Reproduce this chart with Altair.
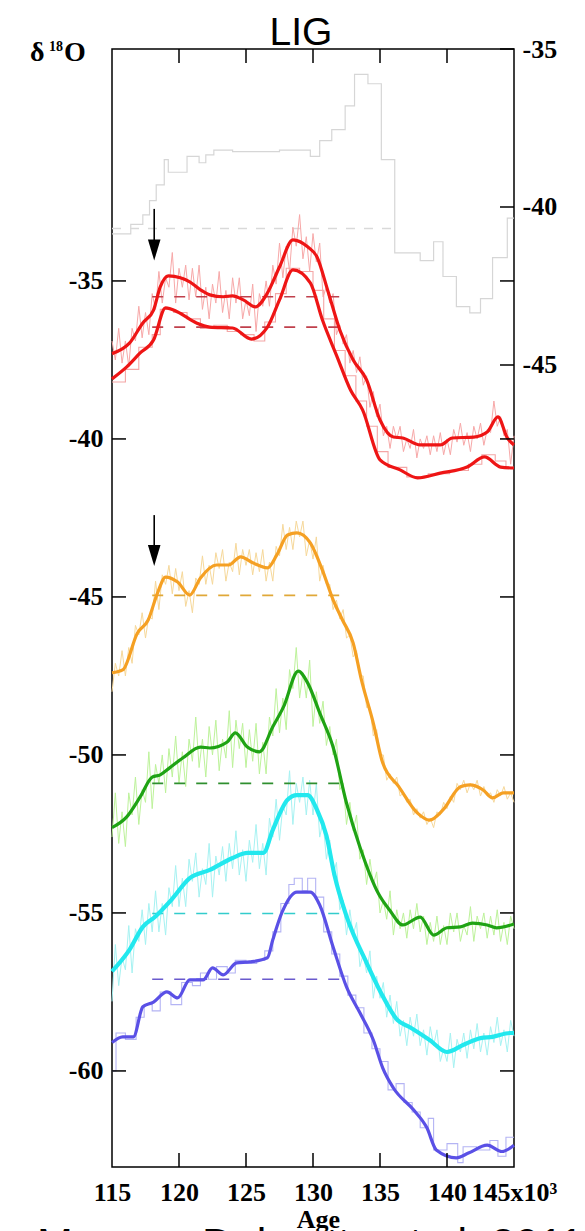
import altair as alt
import pandas as pd

# ---------------- axes ----------------
AGE_DOMAIN = [115, 145]
LEFT_DOMAIN = [-63.04, -27.66]
RIGHT_DOMAIN = [-70.38, -35.0]
AGE_TICKS = [115, 120, 125, 130, 135, 140, 145]
LEFT_TICKS = [-35, -40, -45, -50, -55, -60]
RIGHT_TICKS = [-35, -40, -45]

# ---------------- smoothed records (left axis) ----------------
RED_UP_AGE = [115.0, 116.3, 117.3, 118.1, 118.6, 119.2, 120.1, 120.8, 121.6, 122.3, 123.3, 124.0,
              124.8, 125.7, 126.6, 127.5, 128.5, 129.6, 130.3, 131.1, 132.0, 133.0, 134.0, 135.0,
              136.0, 136.7, 138.0, 139.5, 140.4, 142.0, 143.0, 143.8, 144.5, 145.0]
RED_UP_VAL = [-37.3, -36.97, -36.33, -35.92, -35.19, -34.84, -34.9, -35.03, -35.28, -35.44, -35.5, -35.47,
              -35.6, -35.82, -35.38, -34.56, -33.7, -33.92, -34.24, -35.3, -36.55, -37.5, -38.13, -39.4,
              -39.94, -39.97, -40.19, -40.19, -39.97, -39.94, -39.78, -39.3, -39.97, -40.19]

RED_LO_AGE = [115.0, 116.1, 117.1, 118.1, 119.0, 119.9, 121.3, 122.3, 124.0, 125.4, 126.6, 127.5,
              128.5, 129.8, 130.7, 131.8, 132.8, 133.7, 135.0, 136.5, 137.8, 139.5, 141.5, 142.8,
              144.0, 145.0]
RED_LO_VAL = [-38.1, -37.72, -37.28, -36.87, -35.85, -35.98, -36.33, -36.46, -36.49, -36.84, -36.46, -35.6,
              -34.65, -35.06, -36.23, -37.4, -38.45, -39.08, -40.66, -40.98, -41.23, -41.08, -40.89, -40.57,
              -40.89, -40.92]

ORANGE_AGE = [115.0, 115.8, 116.9, 117.7, 118.4, 119.0, 119.9, 120.8, 121.6, 122.8, 123.7, 124.6,
              125.5, 126.6, 127.3, 128.1, 128.8, 129.8, 130.7, 131.5, 132.2, 133.0, 133.6, 134.5,
              135.2, 136.4, 137.8, 138.7, 139.7, 141.0, 141.7, 142.7, 143.4, 144.2, 145.0]
ORANGE_VAL = [-47.4, -47.31, -46.14, -45.73, -44.87, -44.37, -44.53, -44.94, -44.4, -43.99, -43.99, -43.73,
              -43.92, -44.08, -43.67, -43.04, -42.97, -43.29, -44.15, -45.09, -45.73, -46.46, -47.6, -48.99,
              -50.25, -51.0, -51.84, -52.06, -51.74, -51.01, -50.95, -51.11, -51.36, -51.2, -51.2]

GREEN_AGE = [115.0, 116.1, 117.1, 118.0, 118.6, 119.3, 120.3, 121.6, 122.3, 123.6, 124.2, 125.1,
             126.0, 127.0, 127.8, 128.9, 129.6, 130.5, 131.5, 132.5, 133.5, 134.9, 135.7, 136.7,
             138.0, 139.0, 140.0, 141.0, 141.9, 143.0, 143.7, 145.0]
GREEN_VAL = [-52.3, -51.96, -51.33, -50.7, -50.63, -50.41, -50.09, -49.75, -49.78, -49.59, -49.3, -49.75,
             -49.9, -49.11, -48.48, -47.35, -47.72, -48.67, -49.75, -51.52, -52.91, -54.4, -54.9, -55.38,
             -55.13, -55.7, -55.47, -55.44, -55.32, -55.38, -55.47, -55.35]

CYAN_AGE = [115.0, 116.3, 117.3, 118.2, 119.4, 120.8, 122.3, 124.0, 125.1, 126.3, 127.0, 128.1,
            128.8, 129.6, 130.3, 131.0, 131.6, 132.5, 134.0, 135.1, 136.3, 137.2, 138.7, 140.0,
            141.2, 142.5, 143.4, 144.7, 145.0]
CYAN_VAL = [-56.85, -56.17, -55.44, -55.13, -54.6, -53.9, -53.64, -53.26, -53.1, -53.1, -52.37, -51.42,
            -51.27, -51.27, -51.74, -52.55, -53.8, -55.1, -56.58, -57.55, -58.39, -58.61, -59.02, -59.4,
            -59.18, -58.96, -58.92, -58.8, -58.8]

BLUE_AGE = [115.0, 115.8, 116.6, 117.3, 118.1, 119.1, 119.9, 120.8, 121.8, 122.5, 123.3, 124.3,
            125.3, 126.6, 127.0, 127.7, 128.8, 129.8, 130.5, 131.5, 132.5, 133.5, 134.5, 135.2,
            136.0, 137.5, 138.5, 139.2, 140.7, 141.6, 143.0, 144.1, 145.0]
BLUE_VAL = [-59.1, -58.92, -58.92, -57.97, -57.82, -57.5, -57.69, -57.12, -57.12, -56.74, -56.96, -56.58,
            -56.55, -56.42, -55.85, -54.97, -54.34, -54.34, -54.75, -56.08, -57.34, -58.16, -59.02, -59.9,
            -60.54, -61.23, -61.8, -62.5, -62.75, -62.6, -62.35, -62.55, -62.35]

# ---------------- raw records (0.25 ka sampling) ----------------
RAW_AGE = [115.0, 115.25, 115.5, 115.75, 116.0, 116.25, 116.5, 116.75, 117.0, 117.25, 117.5, 117.75,
           118.0, 118.25, 118.5, 118.75, 119.0, 119.25, 119.5, 119.75, 120.0, 120.25, 120.5, 120.75,
           121.0, 121.25, 121.5, 121.75, 122.0, 122.25, 122.5, 122.75, 123.0, 123.25, 123.5, 123.75,
           124.0, 124.25, 124.5, 124.75, 125.0, 125.25, 125.5, 125.75, 126.0, 126.25, 126.5, 126.75,
           127.0, 127.25, 127.5, 127.75, 128.0, 128.25, 128.5, 128.75, 129.0, 129.25, 129.5, 129.75,
           130.0, 130.25, 130.5, 130.75, 131.0, 131.25, 131.5, 131.75, 132.0, 132.25, 132.5, 132.75,
           133.0, 133.25, 133.5, 133.75, 134.0, 134.25, 134.5, 134.75, 135.0, 135.25, 135.5, 135.75,
           136.0, 136.25, 136.5, 136.75, 137.0, 137.25, 137.5, 137.75, 138.0, 138.25, 138.5, 138.75,
           139.0, 139.25, 139.5, 139.75, 140.0, 140.25, 140.5, 140.75, 141.0, 141.25, 141.5, 141.75,
           142.0, 142.25, 142.5, 142.75, 143.0, 143.25, 143.5, 143.75, 144.0, 144.25, 144.5, 144.75,
           145.0]
RED_RAW = [-36.9, -37.5, -36.5, -37.6, -36.9, -37.7, -36.5, -36.9, -35.8, -36.8, -36.0, -36.7,
           -35.4, -35.9, -34.7, -35.7, -34.9, -35.2, -34.1, -35.7, -34.6, -35.2, -34.5, -35.6,
           -34.6, -35.5, -34.5, -35.9, -35.2, -36.2, -35.1, -35.7, -34.7, -36.0, -35.3, -36.2,
           -34.9, -35.7, -34.9, -36.2, -35.6, -36.1, -35.1, -36.6, -35.4, -35.8, -35.0, -35.8,
           -34.5, -35.1, -33.8, -34.9, -33.9, -34.7, -33.3, -33.9, -32.9, -34.3, -33.6, -34.7,
           -33.5, -34.4, -33.8, -35.5, -35.2, -35.7, -35.4, -36.7, -36.4, -37.0, -36.7, -37.6,
           -37.2, -37.9, -37.4, -38.3, -38.0, -39.0, -38.5, -39.3, -38.9, -39.9, -39.6, -40.3,
           -39.6, -40.0, -39.6, -40.4, -40.0, -40.3, -39.7, -40.6, -40.0, -40.3, -39.9, -40.5,
           -39.9, -40.4, -39.8, -40.5, -40.0, -40.5, -39.7, -40.1, -39.5, -40.2, -39.8, -40.4,
           -39.6, -40.0, -39.5, -40.2, -39.7, -39.8, -38.8, -39.6, -39.3, -39.9, -39.7, -40.8,
           -39.9]
ORANGE_RAW = [-48.0, -47.1, -47.5, -46.7, -47.5, -46.6, -47.1, -45.9, -46.2, -45.5, -46.3, -45.6,
              -45.7, -44.5, -45.4, -44.3, -44.6, -44.0, -44.9, -44.1, -44.8, -44.2, -45.3, -44.8,
              -45.5, -44.4, -44.6, -43.7, -44.6, -44.0, -44.6, -43.6, -44.1, -43.5, -44.5, -43.9,
              -44.2, -43.3, -44.3, -43.5, -44.0, -43.5, -44.3, -43.6, -44.2, -43.5, -44.5, -43.9,
              -44.5, -43.4, -43.7, -42.7, -43.5, -42.8, -43.5, -42.6, -43.1, -42.6, -43.7, -43.2,
              -43.8, -43.1, -44.5, -44.0, -44.6, -44.6, -45.4, -45.1, -45.7, -45.4, -46.3, -46.2,
              -46.9, -46.7, -47.5, -47.5, -48.5, -48.5, -49.4, -49.2, -50.0, -50.0, -50.8, -50.6,
              -50.9, -50.7, -51.3, -51.2, -51.5, -51.4, -51.9, -51.7, -52.0, -51.8, -52.2, -52.0,
              -52.3, -51.8, -51.9, -51.5, -51.7, -51.3, -51.5, -50.9, -51.1, -50.8, -51.2, -50.9,
              -51.1, -50.8, -51.3, -51.0, -51.3, -51.2, -51.5, -51.1, -51.3, -51.0, -51.4, -51.2,
              -51.5]
GREEN_RAW = [-52.6, -51.2, -52.8, -51.8, -52.9, -51.2, -51.9, -50.7, -52.2, -51.1, -51.5, -49.9,
             -51.7, -50.3, -50.9, -50.0, -51.2, -49.8, -50.7, -49.4, -50.9, -49.9, -51.0, -49.5,
             -50.2, -48.8, -50.4, -49.5, -50.7, -49.1, -50.0, -48.9, -50.5, -49.5, -50.1, -48.6,
             -50.4, -48.9, -49.8, -49.0, -50.4, -49.2, -50.2, -49.0, -50.6, -49.6, -50.6, -48.8,
             -49.4, -47.9, -49.3, -48.2, -49.2, -47.3, -47.9, -46.6, -48.2, -47.4, -48.2, -47.0,
             -49.1, -48.0, -49.0, -48.3, -49.7, -49.1, -50.0, -49.5, -51.1, -50.9, -52.2, -51.5,
             -52.4, -51.9, -53.3, -53.0, -54.1, -53.3, -54.1, -53.7, -55.0, -54.6, -55.2, -54.3,
             -55.7, -54.9, -55.5, -55.0, -55.8, -54.9, -55.5, -54.7, -55.6, -55.1, -56.0, -55.3,
             -55.9, -55.1, -56.0, -55.4, -56.0, -55.0, -55.6, -55.0, -55.9, -55.4, -55.7, -54.8,
             -55.9, -55.1, -55.5, -55.0, -55.8, -55.1, -55.7, -54.9, -55.9, -55.3, -56.0, -55.1,
             -55.5]
CYAN_RAW = [-57.8, -56.0, -57.3, -56.4, -56.8, -55.4, -56.9, -55.5, -55.9, -54.9, -56.0, -54.7,
            -55.6, -54.3, -55.6, -54.7, -55.7, -54.2, -54.8, -53.5, -54.8, -53.9, -54.8, -53.3,
            -54.0, -53.1, -54.5, -53.6, -54.1, -52.8, -54.5, -53.2, -53.8, -52.9, -54.0, -52.8,
            -53.6, -52.4, -53.8, -53.0, -54.0, -52.7, -53.4, -52.2, -53.6, -52.8, -53.8, -52.0,
            -52.6, -51.4, -52.7, -51.6, -51.9, -50.5, -52.2, -50.9, -51.5, -50.7, -51.9, -50.8,
            -51.9, -50.9, -52.6, -52.1, -53.3, -52.7, -53.8, -53.4, -54.9, -54.6, -55.7, -54.9,
            -55.7, -55.3, -56.7, -56.3, -56.9, -56.2, -57.7, -57.0, -57.7, -57.2, -58.3, -57.6,
            -58.5, -57.8, -58.9, -58.4, -59.2, -58.3, -58.9, -58.2, -59.2, -58.7, -59.5, -58.6,
            -59.2, -58.7, -59.7, -59.3, -59.7, -58.8, -59.9, -59.0, -59.4, -58.8, -59.6, -58.7,
            -59.3, -58.5, -59.4, -58.8, -59.5, -58.6, -59.1, -58.3, -59.2, -58.7, -59.4, -58.4,
            -58.9]

# stepped raw records
RED_STEP_AGE = [115.0, 116.0, 117.0, 118.0, 118.6, 119.6, 120.6, 121.6, 122.6, 123.6, 124.6, 125.6,
                126.4, 127.2, 128.0, 129.0, 130.0, 130.8, 131.6, 132.4, 133.2, 134.0, 134.8, 135.6,
                137.0, 138.6, 140.2, 141.6, 142.6, 143.6, 144.4, 145.0]
RED_STEP_VAL = [-38.2, -37.8, -37.1, -36.7, -35.9, -36.0, -36.2, -36.5, -36.4, -36.6, -36.7, -36.9,
                -36.3, -35.4, -34.6, -34.7, -35.3, -36.2, -37.2, -38.0, -38.8, -39.6, -40.4, -40.9,
                -41.2, -41.1, -41.0, -40.8, -40.5, -40.7, -40.9, -40.9]
BLUE_STEP_AGE = [115.0, 115.3, 116.0, 116.8, 117.4, 118.0, 118.6, 119.4, 120.2, 121.0, 121.6, 122.2,
                 122.8, 123.6, 124.2, 125.0, 125.8, 126.4, 127.0, 127.6, 128.2, 128.6, 129.2, 129.6,
                 130.2, 130.8, 131.4, 132.0, 132.6, 133.2, 133.8, 134.4, 135.0, 135.6, 136.2, 136.8,
                 137.4, 138.0, 138.6, 139.0, 140.0, 140.8, 141.2, 142.2, 143.2, 143.8, 144.4, 145.0]
BLUE_STEP_VAL = [-60.0, -58.8, -59.0, -58.3, -57.9, -58.1, -57.5, -57.9, -57.2, -57.3, -56.9, -57.1,
                 -56.7, -56.9, -56.5, -56.6, -56.5, -56.2, -55.6, -54.7, -54.1, -53.9, -54.3, -53.9,
                 -54.5, -55.6, -56.3, -57.0, -57.6, -58.0, -58.8, -59.3, -59.7, -60.6, -60.4, -61.0,
                 -61.3, -61.8, -61.5, -62.5, -62.3, -62.9, -62.4, -62.5, -62.2, -62.7, -62.1, -62.1]

# grey stepped record (right axis)
GREY_AGE = [115.0, 116.4, 117.3, 117.8, 118.3, 118.9, 119.2, 120.2, 120.6, 121.5, 122.0, 122.6,
            124.0, 127.5, 129.8, 130.5, 131.4, 132.4, 133.1, 134.1, 135.1, 136.1, 138.0, 139.0,
            139.7, 140.7, 141.7, 142.5, 143.4, 144.5, 145.0]
GREY_VAL = [-40.85, -40.55, -40.25, -39.8, -39.3, -38.5, -38.9, -38.9, -38.4, -38.6, -38.35, -38.2,
            -38.25, -38.2, -38.4, -37.9, -37.55, -36.8, -35.8, -36.1, -38.5, -41.45, -41.7, -41.1,
            -42.2, -43.15, -43.35, -42.9, -41.6, -40.35, -40.35]

# reference levels (dashed)
LEVEL_START, LEVEL_END = 118.0, 132.5
LEVELS = [-35.5, -36.46, -44.95, -50.9, -55.02, -57.1]
LEVEL_COLORS = ["#c0404c", "#c0404c", "#e0a838", "#2f8f2f", "#33cccc", "#6a5acd"]
GREY_LEVEL = -40.68
GREY_LEVEL_END = 136.0

# arrows marking the onset
ARROW_AGE = [118.15, 118.15]
ARROW_TOP = [-32.72, -42.41]
ARROW_HEAD = [-34.02, -43.69]

W, H = 402, 1118
SERIF = "Liberation Serif, Times New Roman, serif"
SANS = "Liberation Sans, Arial, sans-serif"

XS = alt.Scale(domain=AGE_DOMAIN, nice=False, zero=False)
YL = alt.Scale(domain=LEFT_DOMAIN, nice=False, zero=False)
YR = alt.Scale(domain=RIGHT_DOMAIN, nice=False, zero=False)

NEG_LABEL = "'-' + abs(datum.value)"

X_AXIS = alt.Axis(values=AGE_TICKS, ticks=False, tickSize=0, domain=False, grid=False,
                  labelFont=SERIF, labelFontWeight="bold", labelFontSize=26, labelColor="black",
                  labelPadding=12, labelFlush=False, labelOverlap=False,
                  labelExpr="datum.value == 145 ? '145x10\u00b3' : datum.label",
                  title="Age", titleFont=SERIF, titleFontWeight="bold", titleFontSize=26,
                  titleColor="black", titleX=206, titleY=60, titleBaseline="alphabetic",
                  titleAlign="center")
YL_AXIS = alt.Axis(values=LEFT_TICKS, orient="left", ticks=False, tickSize=0, domain=False,
                   grid=False, labelFont=SERIF, labelFontWeight="bold", labelFontSize=26,
                   labelColor="black", labelPadding=9, labelExpr=NEG_LABEL, title="")
YR_AXIS = alt.Axis(values=RIGHT_TICKS, orient="right", ticks=False, tickSize=0, domain=False,
                   grid=False, labelFont=SERIF, labelFontWeight="bold", labelFontSize=26,
                   labelColor="black", labelPadding=8, labelExpr=NEG_LABEL, title="")


def xq(field):
    return alt.X(f"{field}:Q", scale=XS, axis=X_AXIS)


def yl(field):
    return alt.Y(f"{field}:Q", scale=YL, axis=YL_AXIS)


def yr(field):
    return alt.Y(f"{field}:Q", scale=YR, axis=YR_AXIS)


def curve(ages, vals, color, width, interp="monotone"):
    df = pd.DataFrame({"age": ages, "d18o": vals})
    return alt.Chart(df).mark_line(color=color, strokeWidth=width, interpolate=interp).encode(
        x=xq("age"), y=yl("d18o"))


# ---- right-axis group: grey record, its level and ticks ----
grey_df = pd.DataFrame({"age": GREY_AGE, "d18o": GREY_VAL})
grey_line = alt.Chart(grey_df).mark_line(color="#d6d6d6", strokeWidth=1.2,
                                         interpolate="step-after").encode(x=xq("age"), y=yr("d18o"))
grey_level = alt.Chart(pd.DataFrame({"a0": [AGE_DOMAIN[0]], "a1": [GREY_LEVEL_END],
                                     "lvl": [GREY_LEVEL]})).mark_rule(
    color="#d9d9d9", strokeWidth=1.3, strokeDash=[9, 9]).encode(x=xq("a0"), x2="a1:Q", y=yr("lvl"))
right_ticks = alt.Chart(pd.DataFrame({"v": RIGHT_TICKS})).mark_rule(
    color="black", strokeWidth=1.5).encode(y=yr("v"), x=alt.value(W), x2=alt.value(W - 14))
right_group = alt.layer(grey_line, grey_level, right_ticks)

# ---- left-axis group ----
layers = [
    curve(RED_STEP_AGE, RED_STEP_VAL, "#f4a6a6", 1.1, "step-after"),
    curve(RAW_AGE, RED_RAW, "#f7a8a8", 1.0, "linear"),
    curve(RAW_AGE, ORANGE_RAW, "#f6d89a", 1.0, "linear"),
    curve(RAW_AGE, GREEN_RAW, "#bdf29a", 1.0, "linear"),
    curve(RAW_AGE, CYAN_RAW, "#a6f2f2", 1.0, "linear"),
    curve(BLUE_STEP_AGE, BLUE_STEP_VAL, "#b4b4f4", 1.1, "step-after"),
]
for lvl, col in zip(LEVELS, LEVEL_COLORS):
    layers.append(alt.Chart(pd.DataFrame({"a0": [LEVEL_START], "a1": [LEVEL_END], "lvl": [lvl]}))
                  .mark_rule(color=col, strokeWidth=1.6, strokeDash=[11, 11])
                  .encode(x=xq("a0"), x2="a1:Q", y=yl("lvl")))
layers += [
    curve(RED_UP_AGE, RED_UP_VAL, "#ee1515", 3.2),
    curve(RED_LO_AGE, RED_LO_VAL, "#ee1515", 3.2),
    curve(ORANGE_AGE, ORANGE_VAL, "#f5a023", 3.2),
    curve(GREEN_AGE, GREEN_VAL, "#1fa314", 3.2),
    curve(CYAN_AGE, CYAN_VAL, "#22e8ee", 4.2),
    curve(BLUE_AGE, BLUE_VAL, "#5a50e6", 3.2),
]

arrow_df = pd.DataFrame({"age": ARROW_AGE, "top": ARROW_TOP, "head": ARROW_HEAD})
layers.append(alt.Chart(arrow_df).mark_rule(color="black", strokeWidth=1.6)
              .encode(x=xq("age"), y=yl("top"), y2="head:Q"))
layers.append(alt.Chart(arrow_df).mark_point(shape="M-0.6,-1L0.6,-1L0,1Z", filled=True, size=441,
                                             color="black", opacity=1)
              .encode(x=xq("age"), y=yl("head")))

# frame ticks pointing inward
inner_ages = pd.DataFrame({"age": AGE_TICKS[1:-1]})
layers.append(alt.Chart(inner_ages).mark_rule(color="black", strokeWidth=1.5)
              .encode(x=xq("age"), y=alt.value(H), y2=alt.value(H - 14)))
layers.append(alt.Chart(inner_ages).mark_rule(color="black", strokeWidth=1.5)
              .encode(x=xq("age"), y=alt.value(0), y2=alt.value(14)))
left_vals = pd.DataFrame({"v": LEFT_TICKS})
layers.append(alt.Chart(left_vals).mark_rule(color="black", strokeWidth=1.5)
              .encode(y=yl("v"), x=alt.value(0), x2=alt.value(14)))
layers.append(alt.Chart(left_vals).mark_rule(color="black", strokeWidth=1.5)
              .encode(y=yl("v"), x=alt.value(W), x2=alt.value(W - 14)))


# text annotations
def label(text, x, y, size, font, weight="normal", align="left"):
    return alt.Chart(pd.DataFrame({"t": [text]})).mark_text(
        font=font, fontSize=size, fontWeight=weight, align=align, baseline="alphabetic",
        color="black").encode(text="t:N", x=alt.value(x), y=alt.value(y))


layers += [
    label("LIG", 189, -4, 39, SANS, align="center"),
    label("\u03b4", -82, 12, 28, SERIF, "bold"),
    label("18", -63, 2, 14, SERIF, "bold"),
    label("O", -48, 12, 28, SERIF, "bold"),
    label("Masson-Delmotte et al. 2011", -75, 1209, 43, SANS),
]
left_group = alt.layer(*layers)

chart = alt.layer(right_group, left_group).resolve_scale(y="independent").properties(
    width=W, height=H,
    padding={"left": 112, "top": 49, "right": 71, "bottom": 64},
    autosize=alt.AutoSizeParams(type="none"),
    background="white",
).configure_view(stroke="black", strokeWidth=1.5)

chart.save("out.html", embed_options={"renderer": "svg", "actions": False})
